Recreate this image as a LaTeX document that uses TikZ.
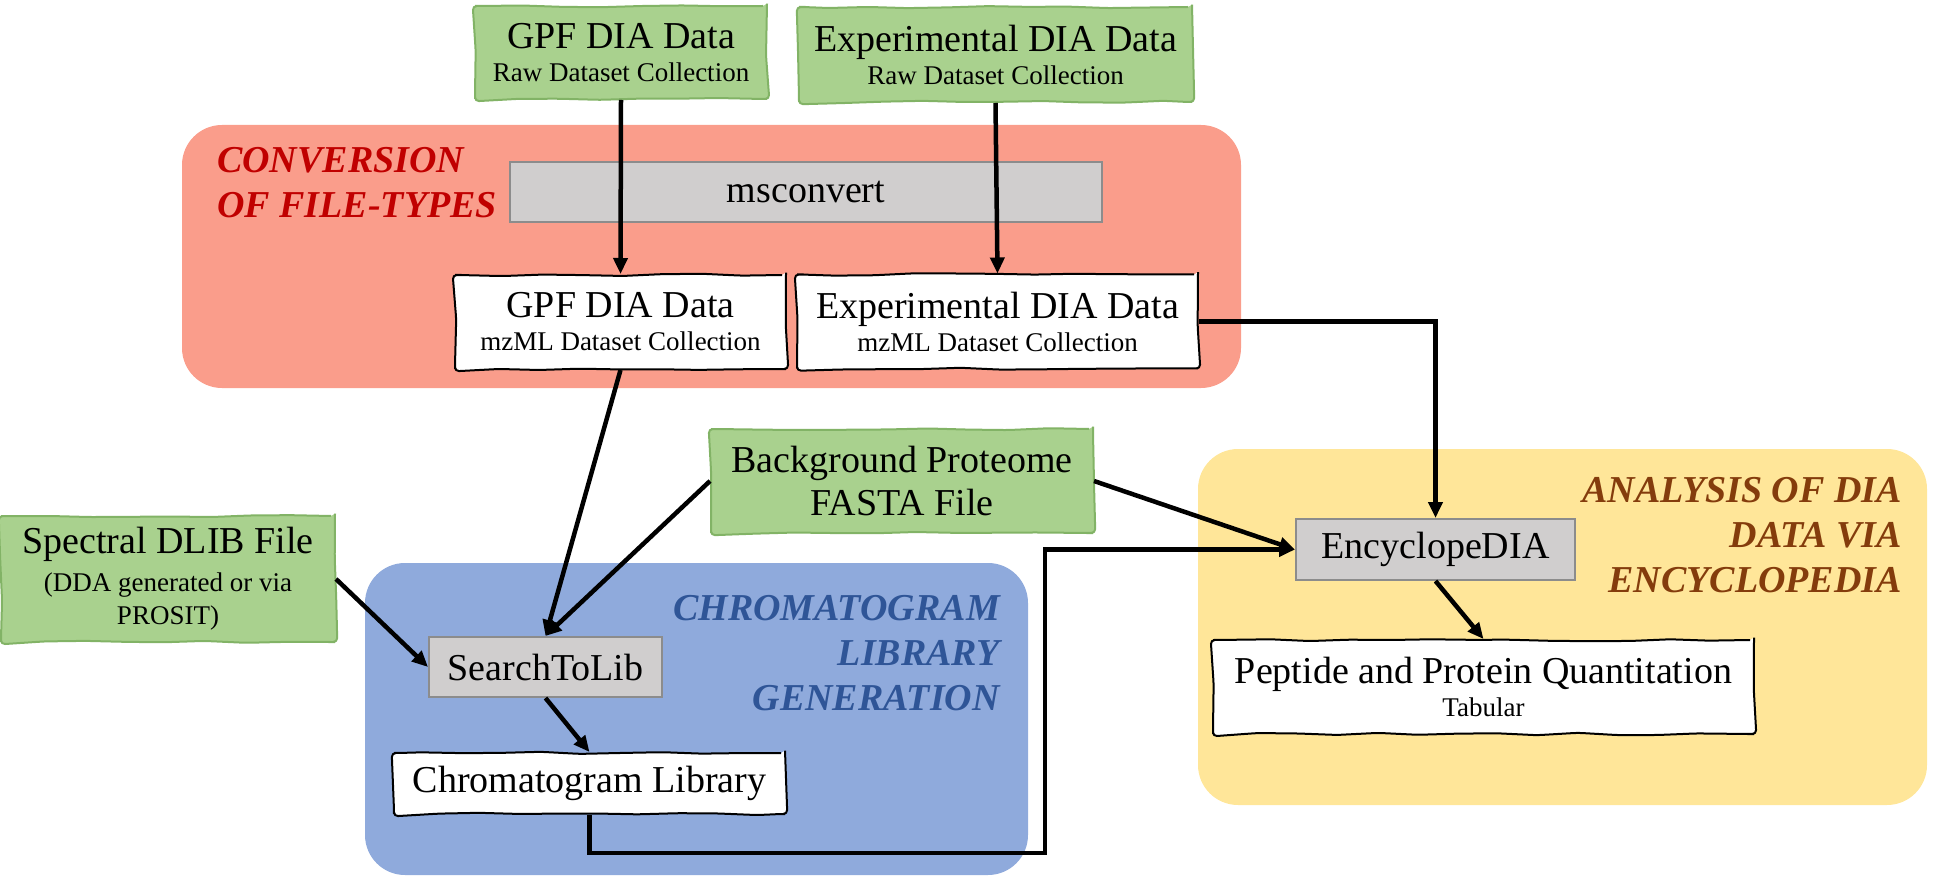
\documentclass[tikz,border=0pt]{standalone}
\usepackage{fontspec}
\setmainfont{Liberation Serif}
\usetikzlibrary{arrows.meta,decorations.pathmorphing,positioning}

\definecolor{convred}{HTML}{FA9D8B}
\definecolor{chromblue}{HTML}{8FAADC}
\definecolor{anayellow}{HTML}{FFE699}
\definecolor{inputgreen}{HTML}{A9D18E}
\definecolor{inputedge}{HTML}{82B366}
\definecolor{toolgray}{HTML}{D0CECE}
\definecolor{tooledge}{HTML}{8C8C8C}
\definecolor{titlered}{HTML}{C00000}
\definecolor{titleblue}{HTML}{2F5597}
\definecolor{titlebrown}{HTML}{843C0C}

\newcommand{\bigtxt}{\fontsize{38}{43}\selectfont}
\newcommand{\smalltxt}{\fontsize{27}{33}\selectfont}

\tikzset{
  sketch/.style={decorate,decoration={random steps,segment length=40pt,amplitude=1.2pt},rounded corners=4pt,line width=2pt},
  inputbox/.style={sketch,draw=inputedge,fill=inputgreen,align=center,font=\smalltxt,inner sep=0pt},
  outputbox/.style={sketch,draw=black,fill=white,align=center,font=\smalltxt,inner sep=0pt},
  toolbox/.style={draw=tooledge,fill=toolgray,line width=2pt,font=\bigtxt,inner sep=0pt},
  region/.style={rounded corners=40pt},
  regiontitle/.style={font=\bfseries\itshape\fontsize{38}{45}\selectfont,inner sep=0pt},
  flow/.style={line width=4.5pt,-{Triangle[length=16pt,width=14pt]}},
}

\begin{document}
\pgfmathsetseed{7}
\begin{tikzpicture}[x=1pt,y=-1pt]

\useasboundingbox (0,0) rectangle (1939,877) ;

% coloured stages
\fill[convred,region] (182,125) rectangle (1241,388) ;
\fill[chromblue,region] (365,563) rectangle (1028,875) ;
\fill[anayellow,region] (1198,449) rectangle (1927,805) ;

\node[regiontitle,text=titlered,align=left,anchor=north west] (convtitle) at (217,147) {CONVERSION\\OF FILE-TYPES} ;
\node[regiontitle,text=titleblue,align=right,anchor=north east] (chromtitle) at (1000,595) {CHROMATOGRAM\\LIBRARY\\GENERATION} ;
\node[regiontitle,text=titlebrown,align=right,anchor=north east] (anatitle) at (1902,477) {ANALYSIS OF DIA\\DATA VIA\\ENCYCLOPEDIA} ;

% inputs and tools
\node[inputbox,minimum width=292pt,minimum height=93pt] (gpfraw) at (621,52.5) {{\bigtxt GPF DIA Data}\\Raw Dataset Collection} ;
\node[inputbox,minimum width=393pt,minimum height=95pt] (expraw) at (995.5,54.5) {{\bigtxt Experimental DIA Data}\\Raw Dataset Collection} ;
\node[toolbox,minimum width=592pt,minimum height=60pt] (msconvert) at (806,192) {msconvert} ;

\node[outputbox,minimum width=331pt,minimum height=94pt] (gpfmzml) at (620.5,322) {{\bigtxt GPF DIA Data}\\mzML Dataset Collection} ;
\node[outputbox,minimum width=401pt,minimum height=94pt] (expmzml) at (997.5,321.5) {{\bigtxt Experimental DIA Data}\\mzML Dataset Collection} ;

\node[inputbox,font=\bigtxt,minimum width=382pt,minimum height=104pt] (bgproteome) at (902,481) {Background Proteome\\FASTA File} ;
\node[inputbox,minimum width=334pt,minimum height=126pt] (dlib) at (168,579) {{\bigtxt Spectral DLIB File}\\[5pt](DDA generated or via\\PROSIT)} ;

\node[toolbox,minimum width=233pt,minimum height=60pt] (searchtolib) at (545.5,667) {SearchToLib} ;
\node[outputbox,font=\bigtxt,minimum width=391pt,minimum height=61pt] (chromlib) at (589.5,783.5) {Chromatogram Library} ;

\node[toolbox,minimum width=279pt,minimum height=61pt] (encyclopedia) at (1435.5,549.5) {EncyclopeDIA} ;
\node[outputbox,minimum width=541pt,minimum height=94pt] (quant) at (1483.5,687) {{\bigtxt Peptide and Protein Quantitation}\\Tabular} ;

\coordinate (libturn) at (1045,853) ;

% flow
\draw[flow] (gpfraw.south) -- (gpfmzml.north) ;
\draw[flow] (expraw.south) -- (expmzml.north) ;
\draw[flow] (gpfmzml.south) -- (searchtolib.north) ;
\draw[flow] (bgproteome.west) -- (searchtolib.north) ;
\draw[flow] (dlib.east) -- (searchtolib.west) ;
\draw[flow] (searchtolib.south) -- (chromlib.north) ;
\draw[flow] (chromlib.south) |- (libturn) |- (encyclopedia.west) ;
\draw[flow] (bgproteome.east) -- (encyclopedia.west) ;
\draw[flow] (expmzml.east) -| (encyclopedia.north) ;
\draw[flow] (encyclopedia.south) -- (quant.north) ;

\end{tikzpicture}
\end{document}
